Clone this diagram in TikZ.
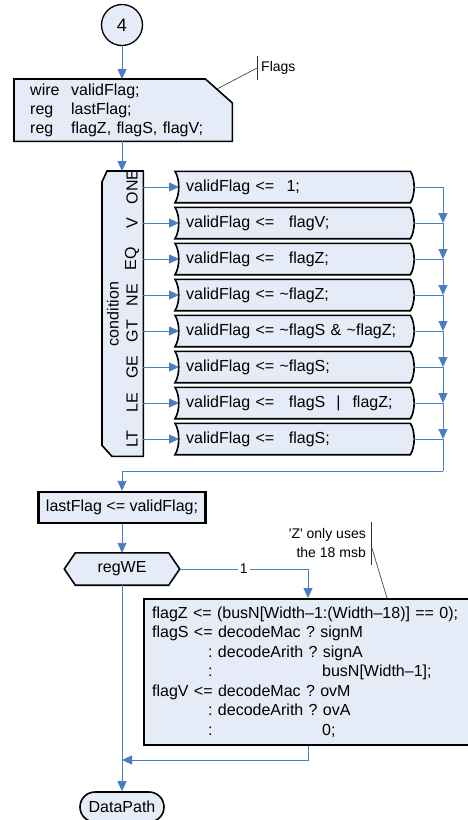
\documentclass[tikz,border=0pt]{standalone}
\usepackage{fontspec}
\setmainfont{Liberation Sans}
\usetikzlibrary{arrows.meta,calc}
\definecolor{flowblue}{RGB}{74,126,193}
\definecolor{boxfill}{RGB}{230,236,247}
\pgfdeclarelayer{paper}
\pgfdeclarelayer{background}
\pgfsetlayers{paper,background,main}
\frenchspacing
\begin{document}
\begin{tikzpicture}[x=1pt,y=-1pt,
  every node/.style={font=\fontsize{16}{19}\selectfont, inner sep=0pt},
  flow/.style={draw=flowblue, line width=0.9pt, -{Triangle[length=10pt,width=9pt]}},
  link/.style={draw=flowblue, line width=0.9pt},
  outline/.style={draw=black, line width=1.6pt, fill=boxfill, line join=miter},
  note/.style={font=\fontsize{14}{19}\selectfont},
  noteline/.style={draw=black!80, line width=0.6pt},
]
\begin{pgfonlayer}{paper}
\fill[white] (0,0) rectangle (467,820);
\end{pgfonlayer}
\useasboundingbox (0,0) rectangle (467,820);

% start connector
\node[circle, draw, line width=1.3pt, fill=boxfill, minimum size=41pt,
      font=\fontsize{18}{18}\selectfont] (start) at (122,25) {4};

% declarations
\node[anchor=north west, minimum width=218pt, minimum height=62pt,
      text width=186pt, align=left] (decl) at (14,79)
  {\makebox[41pt][l]{wire}validFlag;\\
   \makebox[41pt][l]{reg}lastFlag;\\
   \makebox[41pt][l]{reg}flagZ, flagS, flagV;};
\begin{pgfonlayer}{background}
\draw[outline] (decl.north west) -- ([xshift=-27pt]decl.north east)
  -- ([yshift=-24pt]decl.north east) -- (decl.south east)
  -- (decl.south west) -- cycle;
\end{pgfonlayer}

% Flags callout
\coordinate (fa) at (217,89);
\coordinate (fbar) at (257,68);
\node[note, anchor=west] (flags) at (261,68) {Flags};
\draw[noteline] (fa) -- (fbar);
\draw[noteline] ([yshift=12pt]fbar) -- ([yshift=-12pt]fbar);

\draw[flow] (start.south) -- (decl.north -| start.south);

% condition box
\node[anchor=north west, minimum width=41pt, minimum height=285pt] (cond) at (102,171) {};
\begin{pgfonlayer}{background}
\draw[outline] ([yshift=-11pt]cond.north west) -- ([xshift=5pt]cond.north west)
  -- (cond.north east) -- (cond.south east) -- ([xshift=10pt]cond.south west)
  -- ([yshift=11pt]cond.south west) -- cycle;
\end{pgfonlayer}
\node[rotate=90] (condlbl) at (113,314) {condition};
\draw[flow] (decl.south -| start.south) -- (cond.north -| start.south);

% case rows
\foreach \i/\lab/\txt in {
  1/ONE/{validFlag <= \hspace*{7pt}1;},
  2/V/{validFlag <= \hphantom{\textasciitilde}flagV;},
  3/EQ/{validFlag <= \hphantom{\textasciitilde}flagZ;},
  4/NE/{validFlag <= \textasciitilde flagZ;},
  5/GT/{validFlag <= \textasciitilde flagS \& \textasciitilde flagZ;},
  6/GE/{validFlag <= \textasciitilde flagS;},
  7/LE/{validFlag <= \hphantom{\textasciitilde}flagS\hspace*{11pt}\textbar\hspace*{12pt}flagZ;},
  8/LT/{validFlag <= \hphantom{\textasciitilde}flagS;}}{
  \pgfmathsetmacro\yy{187+36*(\i-1)}
  \node[anchor=west, minimum width=234pt, minimum height=31pt, inner xsep=7pt,
        text width=220pt, align=left] (r\i) at (179,\yy) {\txt};
  \begin{pgfonlayer}{background}
  \draw[outline] ([xshift=-4pt]r\i.north west) -- ([xshift=-3pt]r\i.north east)
    .. controls ([xshift=2pt,yshift=-8pt]r\i.north east) and ([xshift=2pt,yshift=8pt]r\i.south east)
    .. ([xshift=-3pt]r\i.south east) -- ([xshift=-4pt]r\i.south west)
    .. controls ([xshift=1pt,yshift=8pt]r\i.south west) and ([xshift=1pt,yshift=-8pt]r\i.north west)
    .. cycle;
  \end{pgfonlayer}
  \node[rotate=90] (lab\i) at (132,\yy) {\lab};
  \coordinate (b\i) at (443,\yy);
  \draw[flow] (cond.east |- r\i.west) -- (r\i.west);
  \draw[link] (r\i.east) -- (b\i);
}
\foreach \i [evaluate=\i as \j using int(\i+1)] in {1,...,7}{
  \draw[flow] (b\i) -- (b\j);
}

% lastFlag
\node[draw, line width=2.4pt, fill=boxfill, minimum width=167pt, minimum height=31pt]
  (last) at (122,507.5) {lastFlag <= validFlag;};
\coordinate (bend) at (443,471);
\draw[link] (b8) -- (bend);
\draw[flow] (bend) -| (last.north);

% regWE decision
\node[minimum width=115pt, minimum height=32pt] (we) at (122,569) {regWE};
\begin{pgfonlayer}{background}
\draw[outline] (we.west) -- ([xshift=11pt]we.north west) -- ([xshift=-11pt]we.north east)
  -- (we.east) -- ([xshift=-11pt]we.south east) -- ([xshift=11pt]we.south west) -- cycle;
\end{pgfonlayer}
\draw[flow] (last.south) -- (we.north);

% update box
\node[draw, line width=2.4pt, fill=boxfill, anchor=north west, minimum height=146pt,
      text width=320pt, inner xsep=8pt, align=left,
      font=\fontsize{16}{19.5}\selectfont] (upd) at (143,598)
  {flagZ <= (busN[Width--1:(Width--18)] == 0);\\
   flagS <= decodeMac ? signM\\
   \hspace*{56pt}: decodeArith ? signA\\
   \makebox[170pt][l]{\hspace*{56pt}:}busN[Width--1];\\
   flagV <= decodeMac ? ovM\\
   \hspace*{56pt}: decodeArith ? ovA\\
   \makebox[170pt][l]{\hspace*{56pt}:}0;};
\coordinate (updin) at ([xshift=165pt]upd.north west);
\coordinate (updout) at ([xshift=165pt]upd.south west);
\draw[flow] (we.east) -| node[pos=0.25, note, fill=white, inner xsep=2pt] (one) {1} (updin);

% note on Z
\node[note, align=right, anchor=east] (zn) at (366,542.5)
  {\textquotesingle Z\textquotesingle\ only uses\\the 18 msb};
\coordinate (zbar) at (371,545);
\draw[noteline] (371,522) -- (371,565);
\draw[noteline] (zbar) -- ([xshift=244pt]upd.north west);

% end
\node[draw, line width=1.6pt, fill=boxfill, rounded corners=15pt, minimum width=84pt,
      minimum height=30pt] (dp) at (122,807) {DataPath};
\coordinate (join) at (122,760);
\draw[flow] (we.south) -- (dp.north);
\draw[flow] (updout) |- (join);
\end{tikzpicture}
\end{document}
